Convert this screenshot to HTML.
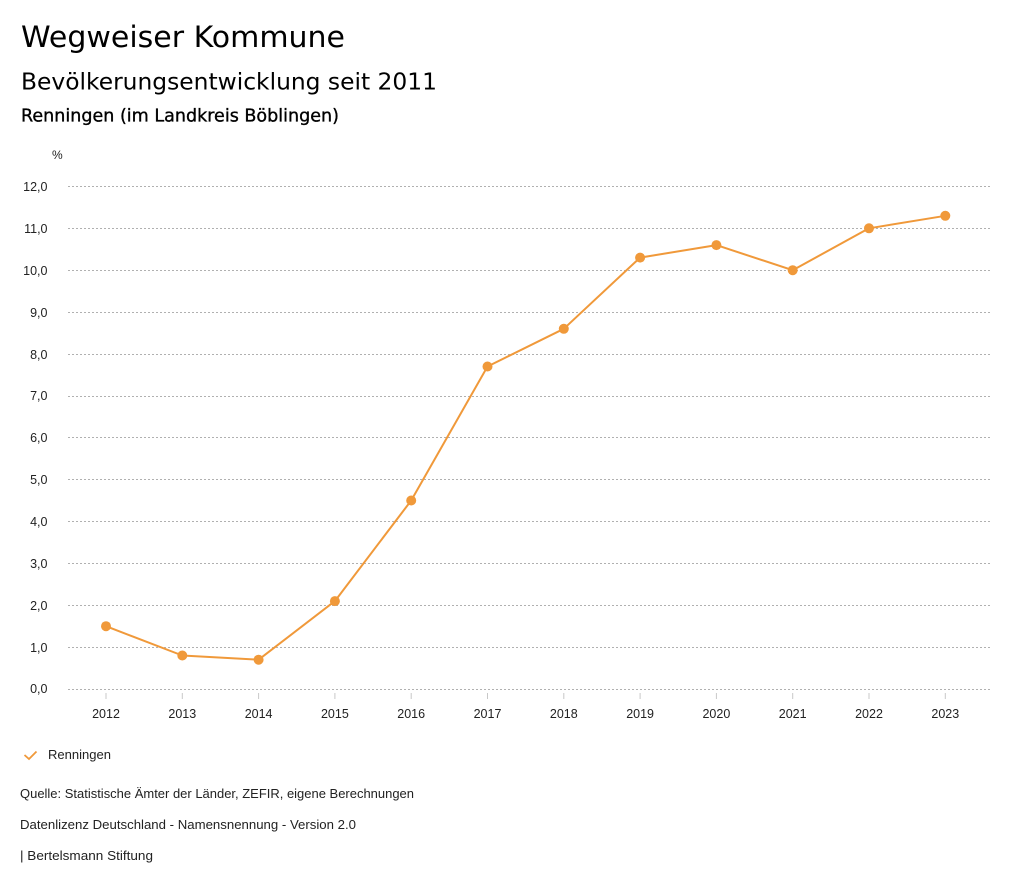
<!DOCTYPE html>
<html><head><meta charset="utf-8"><style>
html,body{margin:0;padding:0;background:#fff;}
svg{display:block;}
.t{font-family:"DejaVu Sans",sans-serif;fill:#000;}
.s{font-family:"Liberation Sans",sans-serif;fill:#222;}
</style></head><body>
<svg width="1024" height="888" viewBox="0 0 1024 888" xmlns="http://www.w3.org/2000/svg">
<text class="t" x="21" y="47" font-size="29.5" textLength="324" lengthAdjust="spacingAndGlyphs">Wegweiser Kommune</text>
<text class="t" x="21" y="89.5" font-size="23.5" textLength="416" lengthAdjust="spacingAndGlyphs">Bevölkerungsentwicklung seit 2011</text>
<text class="t" x="21" y="121.5" font-size="17.5" stroke="#000" stroke-width="0.35" textLength="318" lengthAdjust="spacingAndGlyphs">Renningen (im Landkreis Böblingen)</text>

<text class="s" x="52" y="159" font-size="12">%</text>

<g stroke="#b0b0b0" stroke-width="1" stroke-dasharray="2,2">
<line x1="68" x2="990" y1="186.5" y2="186.5"/>
<line x1="68" x2="990" y1="228.5" y2="228.5"/>
<line x1="68" x2="990" y1="270.5" y2="270.5"/>
<line x1="68" x2="990" y1="312.5" y2="312.5"/>
<line x1="68" x2="990" y1="354.5" y2="354.5"/>
<line x1="68" x2="990" y1="396.5" y2="396.5"/>
<line x1="68" x2="990" y1="437.5" y2="437.5"/>
<line x1="68" x2="990" y1="479.5" y2="479.5"/>
<line x1="68" x2="990" y1="521.5" y2="521.5"/>
<line x1="68" x2="990" y1="563.5" y2="563.5"/>
<line x1="68" x2="990" y1="605.5" y2="605.5"/>
<line x1="68" x2="990" y1="647.5" y2="647.5"/>
<line x1="68" x2="990" y1="689.5" y2="689.5"/>
</g>

<g class="s" font-size="12.5" text-anchor="end">
<text x="47.5" y="191">12,0</text>
<text x="47.5" y="233">11,0</text>
<text x="47.5" y="275">10,0</text>
<text x="47.5" y="317">9,0</text>
<text x="47.5" y="359">8,0</text>
<text x="47.5" y="400">7,0</text>
<text x="47.5" y="442">6,0</text>
<text x="47.5" y="484">5,0</text>
<text x="47.5" y="526">4,0</text>
<text x="47.5" y="568">3,0</text>
<text x="47.5" y="610">2,0</text>
<text x="47.5" y="652">1,0</text>
<text x="47.5" y="693">0,0</text>
</g>

<g stroke="#c8c8c8" stroke-width="1">
<line x1="106" x2="106" y1="693" y2="699"/>
<line x1="182.3" x2="182.3" y1="693" y2="699"/>
<line x1="258.6" x2="258.6" y1="693" y2="699"/>
<line x1="334.9" x2="334.9" y1="693" y2="699"/>
<line x1="411.2" x2="411.2" y1="693" y2="699"/>
<line x1="487.5" x2="487.5" y1="693" y2="699"/>
<line x1="563.8" x2="563.8" y1="693" y2="699"/>
<line x1="640.1" x2="640.1" y1="693" y2="699"/>
<line x1="716.4" x2="716.4" y1="693" y2="699"/>
<line x1="792.7" x2="792.7" y1="693" y2="699"/>
<line x1="869" x2="869" y1="693" y2="699"/>
<line x1="945.3" x2="945.3" y1="693" y2="699"/>
</g>

<g class="s" font-size="12.5" text-anchor="middle">
<text x="106" y="718">2012</text>
<text x="182.3" y="718">2013</text>
<text x="258.6" y="718">2014</text>
<text x="334.9" y="718">2015</text>
<text x="411.2" y="718">2016</text>
<text x="487.5" y="718">2017</text>
<text x="563.8" y="718">2018</text>
<text x="640.1" y="718">2019</text>
<text x="716.4" y="718">2020</text>
<text x="792.7" y="718">2021</text>
<text x="869" y="718">2022</text>
<text x="945.3" y="718">2023</text>
</g>

<polyline fill="none" stroke="#F0993A" stroke-width="2" stroke-linejoin="round"
points="106,626.2 182.3,655.5 258.6,659.7 334.9,601.1 411.2,500.5 487.5,366.5 563.8,328.8 640.1,257.6 716.4,245.1 792.7,270.2 869,228.3 945.3,215.8"/>
<g fill="#F0993A">
<circle cx="106" cy="626.2" r="5"/>
<circle cx="182.3" cy="655.5" r="5"/>
<circle cx="258.6" cy="659.7" r="5"/>
<circle cx="334.9" cy="601.1" r="5"/>
<circle cx="411.2" cy="500.5" r="5"/>
<circle cx="487.5" cy="366.5" r="5"/>
<circle cx="563.8" cy="328.8" r="5"/>
<circle cx="640.1" cy="257.6" r="5"/>
<circle cx="716.4" cy="245.1" r="5"/>
<circle cx="792.7" cy="270.2" r="5"/>
<circle cx="869" cy="228.3" r="5"/>
<circle cx="945.3" cy="215.8" r="5"/>
</g>

<polyline fill="none" stroke="#F0993A" stroke-width="1.8" points="24.5,755 29,759 36.5,751.5"/>
<text class="s" x="48" y="759" font-size="13" textLength="63" lengthAdjust="spacingAndGlyphs">Renningen</text>

<text class="s" x="20" y="798" font-size="13" textLength="394" lengthAdjust="spacingAndGlyphs">Quelle: Statistische Ämter der Länder, ZEFIR, eigene Berechnungen</text>
<text class="s" x="20" y="829" font-size="13" textLength="336" lengthAdjust="spacingAndGlyphs">Datenlizenz Deutschland - Namensnennung - Version 2.0</text>
<text class="s" x="20" y="860" font-size="13" textLength="133" lengthAdjust="spacingAndGlyphs">| Bertelsmann Stiftung</text>
</svg>
</body></html>
